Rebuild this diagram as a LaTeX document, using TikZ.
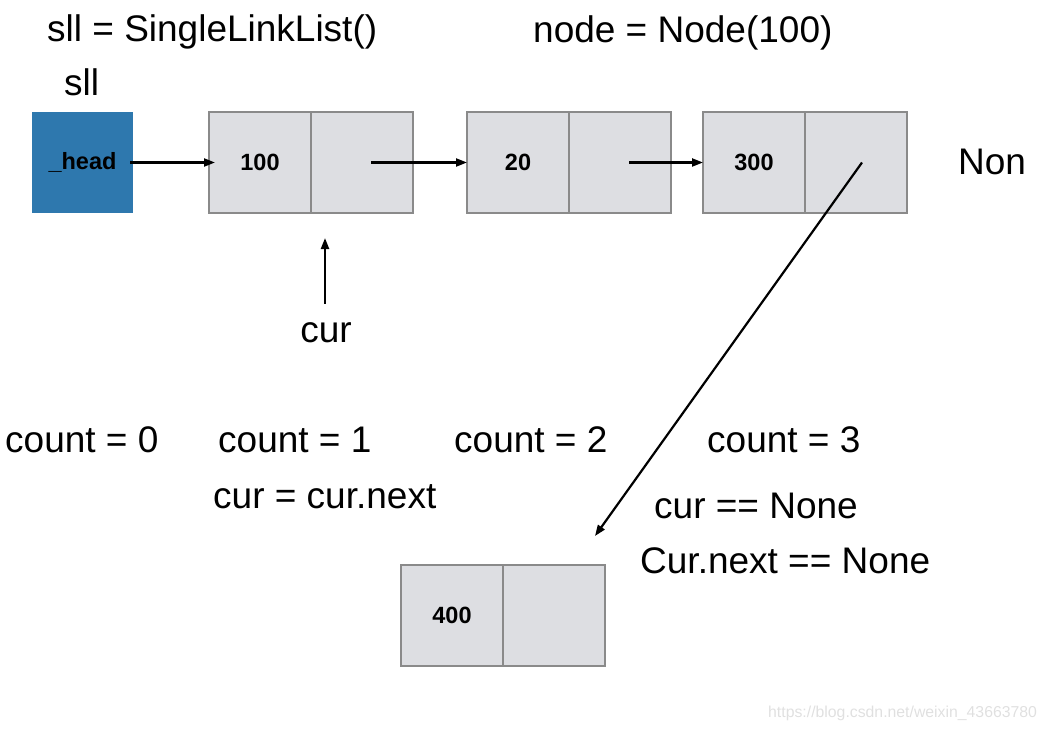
\documentclass[tikz,border=0pt]{standalone}
\usepackage{fontspec}
\setmainfont{Liberation Sans}
\usetikzlibrary{positioning,arrows.meta}
\definecolor{headblue}{HTML}{2E78AE}
\definecolor{cellfill}{HTML}{DDDEE2}
\definecolor{cellline}{HTML}{8A8A8A}
\begin{document}
  \begin{tikzpicture}[x=1pt,y=-1pt,
      cell/.style={rectangle,draw=cellline,fill=cellfill,line width=2.5pt,outer sep=0pt,inner sep=0pt,
        minimum width=102pt,minimum height=101pt,font=\bfseries\fontsize{23.5}{27}\selectfont},
      headcell/.style={cell,draw=none,fill=headblue,minimum width=101pt},
      lbl/.style={anchor=base west,inner sep=0pt,font=\fontsize{37}{41}\selectfont},
      link/.style={line width=2.2pt,-{Triangle[length=11pt,width=8pt]}}]
    \useasboundingbox (0,0) rectangle (1049,730);
    \node[headcell] (head) at (82.5,162.5) {\_head};
    \node[cell] (n1) at (260,162.5) {100};
    \node[cell,right=0pt of n1] (n1p) {};
    \node[cell] (n2) at (518,162.5) {20};
    \node[cell,right=0pt of n2] (n2p) {};
    \node[cell] (n3) at (754,162.5) {300};
    \node[cell,right=0pt of n3] (n3p) {};
    \node[cell] (n4) at (452,615.5) {400};
    \node[cell,right=0pt of n4] (n4p) {};
    \node[lbl] (sllnew) at (47,42) {sll = SingleLinkList()};
    \node[lbl] (nodenew) at (533,43) {node = Node(100)};
    \node[lbl] (sll) at (64,96) {sll};
    \node[lbl] (none) at (958,175) {Non};
    \node[lbl,anchor=base] (cur) at (326,342) {cur};
    \node[lbl] (count0) at (5,452) {count = 0};
    \node[lbl] (count1) at (218,452) {count = 1};
    \node[lbl] (count2) at (454,452) {count = 2};
    \node[lbl] (count3) at (707,452) {count = 3};
    \node[lbl] (step1) at (213,508) {cur = cur.next};
    \node[lbl] (curnone) at (654,518) {cur == None};
    \node[lbl] (nextnone) at (640,573) {Cur.next == None};
    \node[anchor=base west,inner sep=0pt,text=black!12,font=\fontsize{15.8}{18}\selectfont] (mark) at (768,717) {https://blog.csdn.net/weixin\_43663780};
    \coordinate (curtip) at (325,238);
    \coordinate (newtip) at (595,536);
    \draw[link] ([xshift=-3pt]head.east) -- ([xshift=6pt]n1.west);
    \draw[link] ([xshift=9pt]n1p.center) -- (n2.west);
    \draw[link] ([xshift=9pt]n2p.center) -- (n3.west);
    \draw[link] ([xshift=6pt]n3p.center) -- (newtip);
    \draw[link] ([xshift=-1pt,yshift=18pt]cur.north) -- (curtip);
  \end{tikzpicture}
\end{document}
